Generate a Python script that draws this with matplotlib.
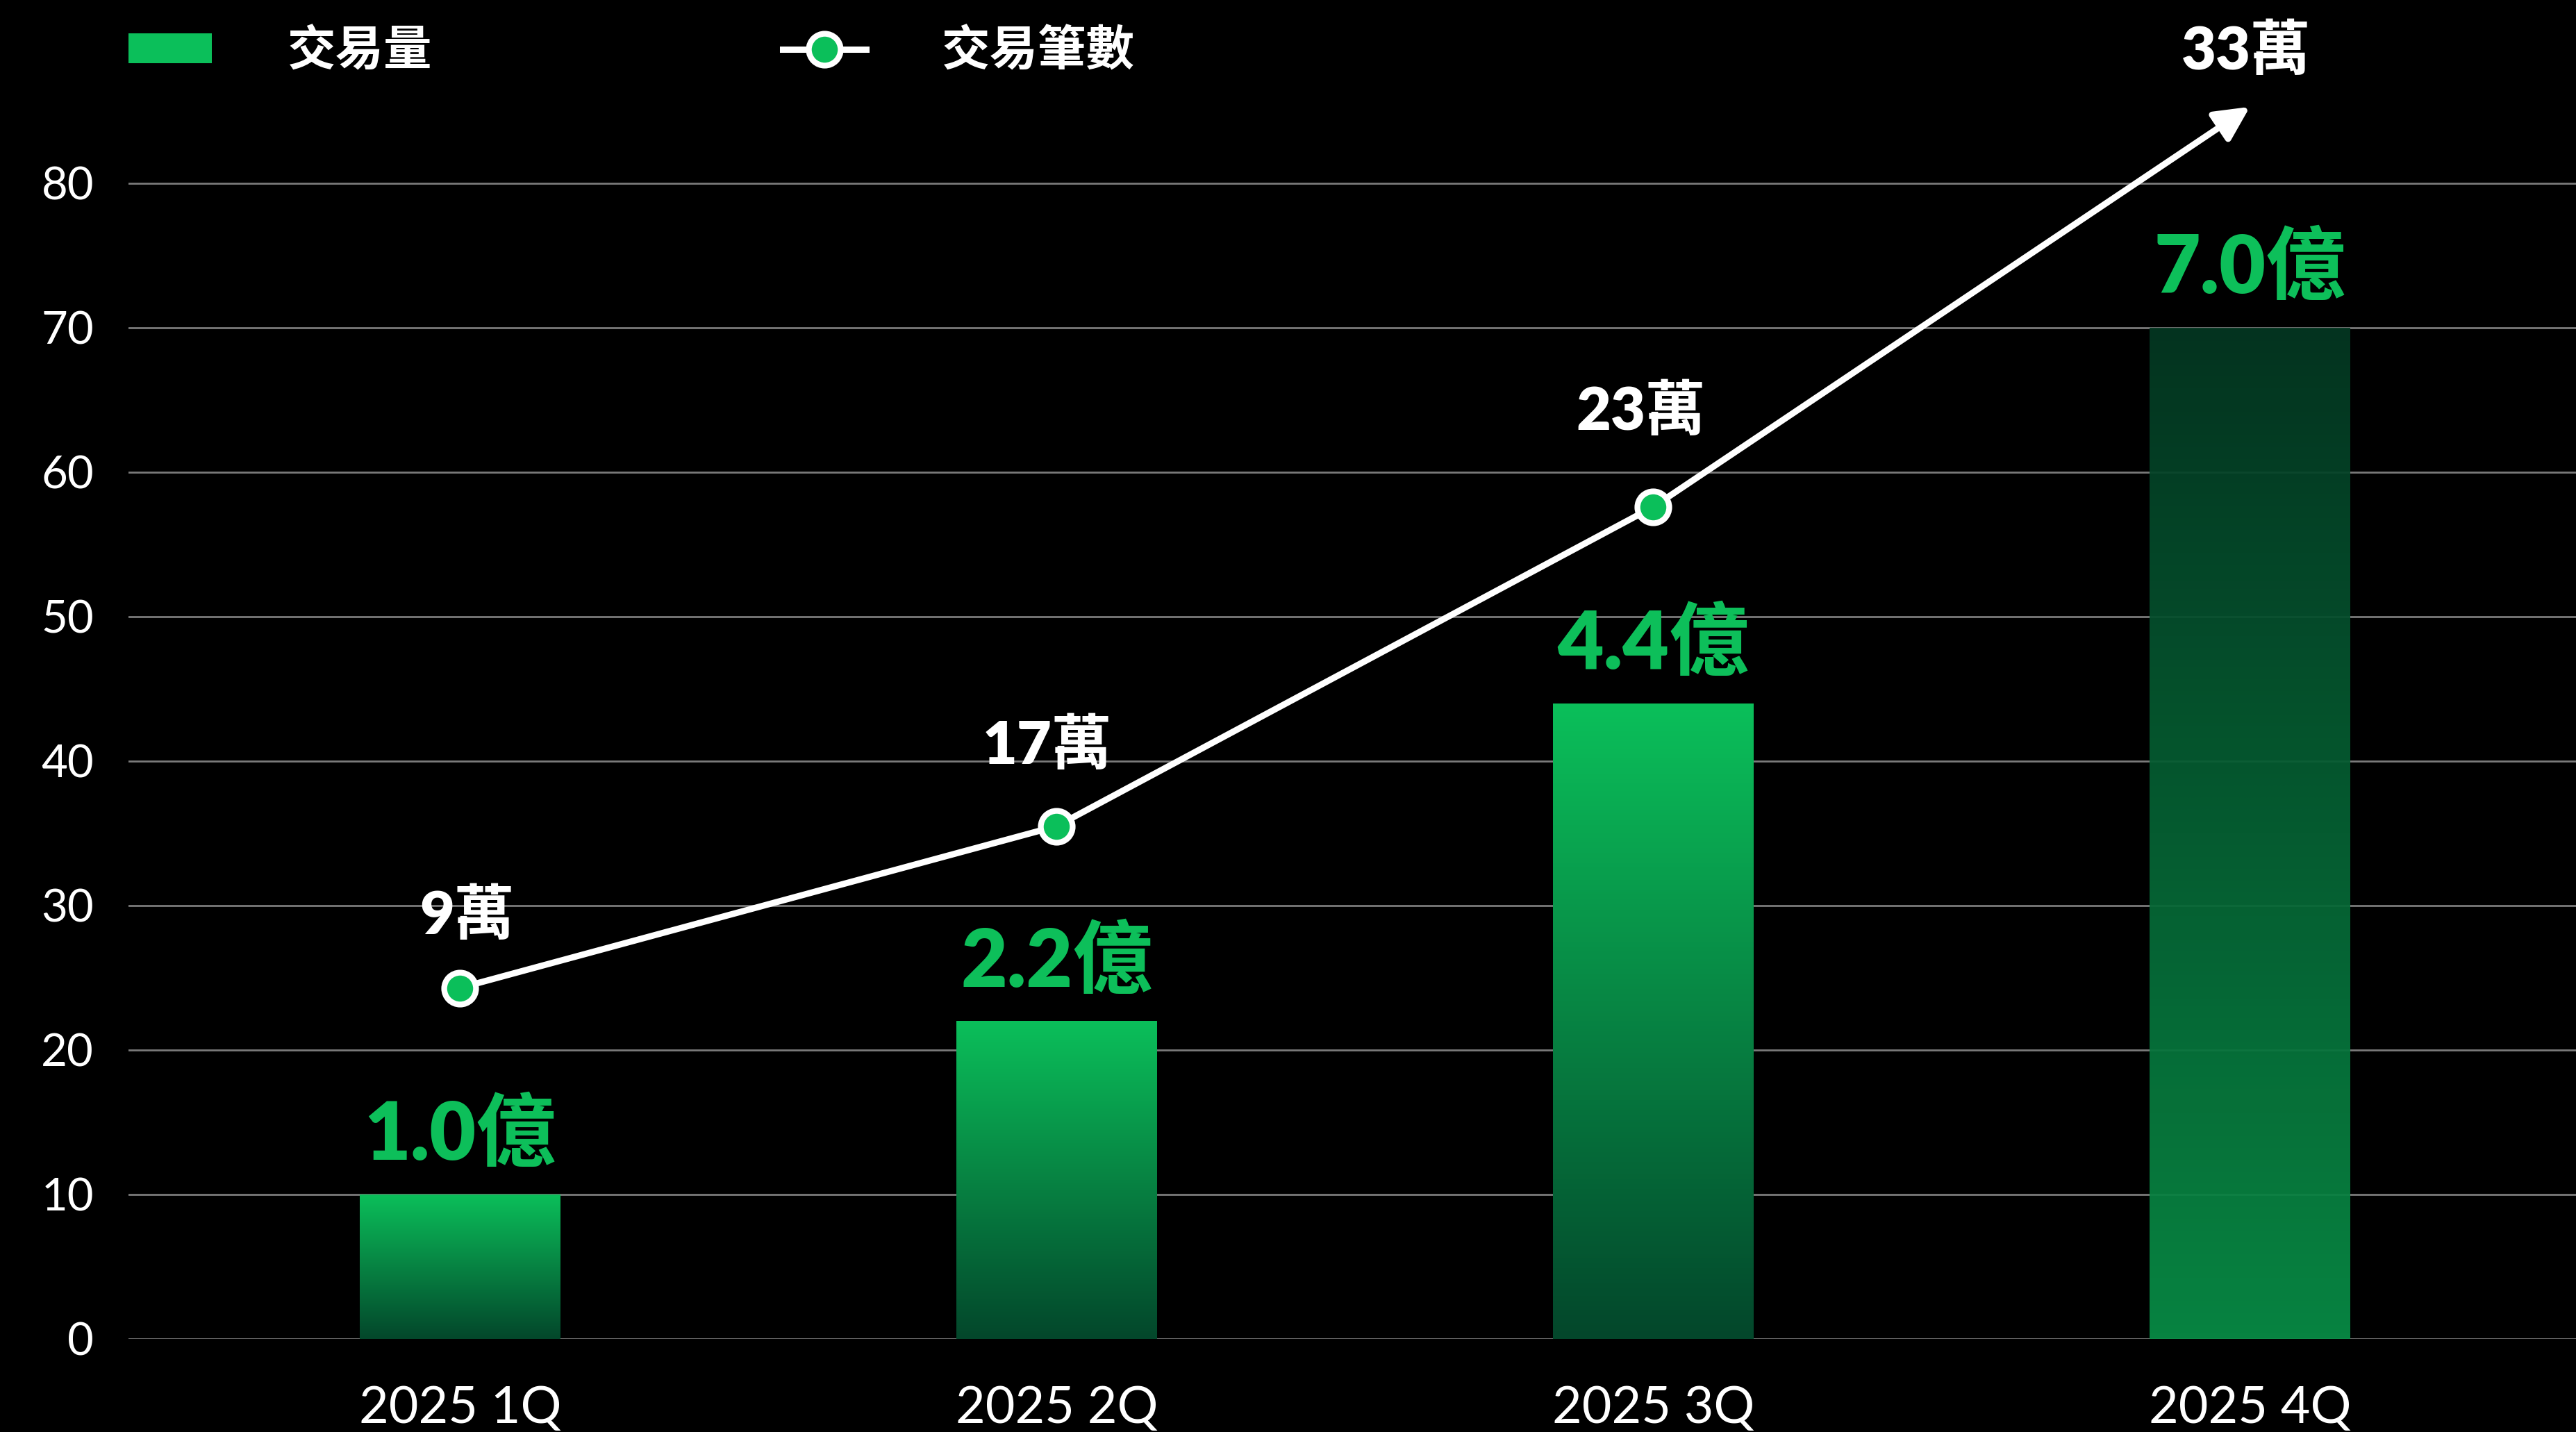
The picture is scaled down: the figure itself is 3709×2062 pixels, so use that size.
import matplotlib
matplotlib.use('Agg')
import matplotlib.pyplot as plt
import numpy as np
from matplotlib.colors import LinearSegmentedColormap
from matplotlib.lines import Line2D
from matplotlib.patches import Patch
from matplotlib.font_manager import FontProperties

# ---- data ----
categories = ['2025 1Q', '2025 2Q', '2025 3Q', '2025 4Q']
volume = [10, 22, 44, 70]                      # 交易量 (bar heights, axis units)
volume_labels = ['1.0億', '2.2億', '4.4億', '7.0億']
count_pos = [24.3, 35.5, 57.6, 85.3]           # 交易筆數 line positions (axis units)
count_labels = ['9萬', '17萬', '23萬', '33萬']
yticks = [0, 10, 20, 30, 40, 50, 60, 70, 80]
legend_labels = ['交易量', '交易筆數']

# ---- style ----
W, H, DPI = 3709, 2062, 100
GREEN = '#0bbf5a'
LABEL_GREEN = '#0dbf5a'
cjk_bold = ['Lato', 'Noto Sans CJK TC', 'DejaVu Sans']
count_offsets = [(7, 75), (-10, 84), (-13, 99), (-4, 58)]   # label offsets in points
LW = 6.5
MS = 33
MEW = 6

fig = plt.figure(figsize=(W / DPI, H / DPI), dpi=DPI, facecolor='black')
ax = fig.add_axes([185 / W, (H - 1928) / H, 1 - 185 / W, (1928 - 40) / H])
ax.set_facecolor('black')

x = np.arange(len(categories))
bw = 0.336
bars = ax.bar(x, volume, width=bw, color='none', edgecolor='none', zorder=2)

grad_up = LinearSegmentedColormap.from_list('g1', ['#03472b', '#0bbf5a'])   # bottom -> top
grad_dn = LinearSegmentedColormap.from_list('g2', ['#088d46', '#043722'])   # bottom -> top
grad = np.linspace(0, 1, 256).reshape(-1, 1)
for i, b in enumerate(bars):
    last = (i == len(bars) - 1)
    im = ax.imshow(grad, cmap=grad_dn if last else grad_up, origin='lower', aspect='auto',
                   extent=[b.get_x(), b.get_x() + b.get_width(), 0, b.get_height()],
                   zorder=2, alpha=0.94 if last else 1.0, interpolation='bicubic')
    im.set_clip_path(b)

# line with markers + arrow to last point
ax.annotate('', xy=(x[3], count_pos[3]), xytext=(x[2], count_pos[2]),
            arrowprops=dict(arrowstyle='-|>,head_length=0.5,head_width=0.25', color='white',
                            lw=LW, mutation_scale=60, shrinkA=0, shrinkB=0),
            zorder=3, annotation_clip=False)
ax.plot(x[:3], count_pos[:3], color='white', lw=LW, zorder=4, marker='o', ms=MS,
        mfc=GREEN, mec='white', mew=MEW, solid_capstyle='butt')

# labels
for i in range(len(categories)):
    ax.annotate(volume_labels[i], (x[i], volume[i]), xytext=(0, 61), textcoords='offset points',
                ha='center', va='center', fontsize=83, fontweight='heavy', color=LABEL_GREEN,
                family=cjk_bold, annotation_clip=False, zorder=5)
    ax.annotate(count_labels[i], (x[i], count_pos[i]), xytext=count_offsets[i],
                textcoords='offset points', ha='center', va='center', fontsize=62,
                fontweight='heavy', color='white', family=cjk_bold, annotation_clip=False, zorder=5)

# axes
ax.set_xlim(-0.5556, 3.5465)
ax.set_ylim(0, (1928 - 40) / 20.8)
ax.set_xticks(x, categories)
ax.set_yticks(yticks)
ax.tick_params(axis='both', length=0, colors='white')
ax.tick_params(axis='y', pad=36, labelsize=47)
ax.tick_params(axis='x', pad=48, labelsize=53)
for lab in ax.get_xticklabels() + ax.get_yticklabels():
    lab.set_family(['Lato', 'DejaVu Sans'])
    lab.set_fontweight('normal')
for s in ax.spines.values():
    s.set_visible(False)
ax.set_axisbelow(True)
ax.yaxis.grid(True, color='#7a7a7a', lw=2)
ax.xaxis.grid(False)

# legend
handles = [Patch(facecolor=GREEN, edgecolor='none'),
           Line2D([], [], color='white', lw=LW, marker='o', ms=MS, mfc=GREEN, mec='white', mew=MEW)]
fig.legend(handles, legend_labels, loc='center left', bbox_to_anchor=(185 / W, 1 - 73 / H),
           ncol=2, frameon=False, prop=FontProperties(family=cjk_bold, weight='heavy', size=50),
           handlelength=1.73, handleheight=0.56, handletextpad=1.57, columnspacing=7.26,
           borderpad=0, borderaxespad=0, labelcolor='white')

fig.savefig('out.png', dpi=DPI, facecolor='black')
